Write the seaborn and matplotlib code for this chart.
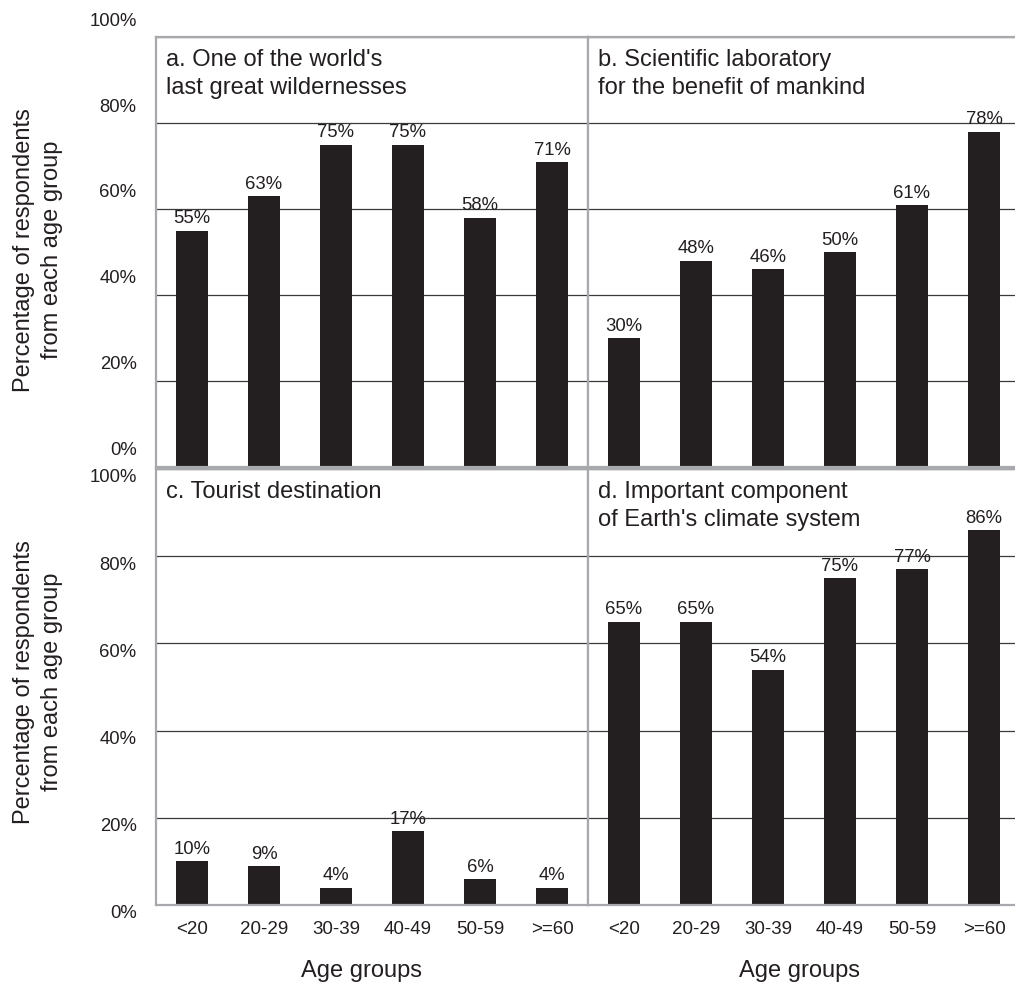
import matplotlib
matplotlib.use('Agg')
import matplotlib.pyplot as plt
import matplotlib.transforms as mtransforms
import seaborn as sns

# data
age_groups = ['<20', '20-29', '30-39', '40-49', '50-59', '>=60']
wilderness = [55, 63, 75, 75, 58, 71]
laboratory = [30, 48, 46, 50, 61, 78]
tourist = [10, 9, 4, 17, 6, 4]
climate = [65, 65, 54, 75, 77, 86]
titles = ["a. One of the world's\nlast great wildernesses",
          "b. Scientific laboratory\nfor the benefit of mankind",
          "c. Tourist destination",
          "d. Important component\nof Earth's climate system"]
y_ticks = [0, 20, 40, 60, 80, 100]
y_tick_labels = ['0%', '20%', '40%', '60%', '80%', '100%']

sns.set_theme(style='white')
plt.rcParams['font.family'] = ['Liberation Sans', 'DejaVu Sans']

BAR = '#231f20'
FRAME = '#a7a9ac'
GRID = '#3a3a3a'

W, H = 1015, 987
fig = plt.figure(figsize=(W / 100, H / 100), dpi=100)


# axes box given in pixels from the top-left corner
def add_panel(x0, y0, w, h):
    return fig.add_axes([x0 / W, 1 - (y0 + h) / H, w / W, h / H])


def draw_panel(ax, values, title, show_y, show_x, label_shift):
    sns.barplot(x=age_groups, y=values, color=BAR, saturation=1, width=0.45,
                errorbar=None, ax=ax, zorder=3, linewidth=0)
    ax.set_xlim(-0.5, 5.5)
    ax.set_ylim(0, 100)
    ax.set_yticks(y_ticks)
    ax.set_yticklabels(y_tick_labels)
    ax.yaxis.grid(True, color=GRID, lw=0.9)
    ax.xaxis.grid(False)
    ax.set_axisbelow(True)
    ax.set_xlabel('')
    ax.set_ylabel('')

    for side in ['top', 'bottom', 'left', 'right']:
        ax.spines[side].set_color(FRAME)
        ax.spines[side].set_linewidth(1.6)
        ax.spines[side].set_zorder(4)

    ax.bar_label(ax.containers[0], labels=[f'{v}%' for v in values],
                 padding=3, fontsize=13.3, color=BAR)

    ax.tick_params(axis='y', length=0, pad=14, labelsize=13.3, labelcolor=BAR,
                   labelleft=show_y)
    ax.tick_params(axis='x', length=0, pad=11, labelsize=13.5, labelcolor=BAR,
                   labelbottom=show_x)

    if show_y:
        offset = mtransforms.ScaledTranslation(0, label_shift / 100, fig.dpi_scale_trans)
        for lab in ax.get_yticklabels():
            lab.set_transform(lab.get_transform() + offset)

    ax.annotate(title, xy=(0, 1), xycoords='axes fraction', xytext=(7, -8),
                textcoords='offset points', ha='left', va='top',
                fontsize=17, color=BAR, linespacing=1.35)


ax_a = add_panel(156, 38, 432, 430)
ax_b = add_panel(588, 38, 432, 430)
ax_c = add_panel(156, 470, 432, 436)
ax_d = add_panel(588, 470, 432, 436)

draw_panel(ax_a, wilderness, titles[0], True, False, 19)
draw_panel(ax_b, laboratory, titles[1], False, False, 0)
draw_panel(ax_c, tourist, titles[2], True, True, -6)
draw_panel(ax_d, climate, titles[3], False, True, 0)

ax_b.spines['right'].set_visible(False)
ax_d.spines['right'].set_visible(False)

ax_c.set_xlabel('Age groups', fontsize=17, color=BAR)
ax_c.xaxis.set_label_coords(0.475, -0.125)
ax_c.xaxis.label.set_va('top')
ax_d.set_xlabel('Age groups', fontsize=17, color=BAR)
ax_d.xaxis.set_label_coords(0.49, -0.125)
ax_d.xaxis.label.set_va('top')

ylab = 'Percentage of respondents\nfrom each age group'
fig.text(38 / W, 1 - 250 / H, ylab, rotation=90, ha='center', va='center',
         multialignment='center', fontsize=17, color=BAR, linespacing=1.3)
fig.text(38 / W, 1 - 682 / H, ylab, rotation=90, ha='center', va='center',
         multialignment='center', fontsize=17, color=BAR, linespacing=1.3)

plt.savefig('out.png', dpi=100)
